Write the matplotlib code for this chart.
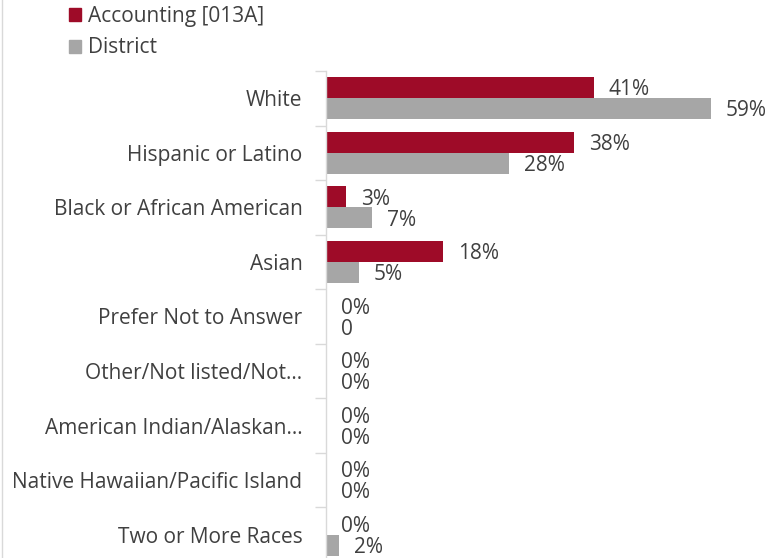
import numpy as np
import matplotlib.pyplot as plt
from matplotlib.lines import Line2D
from matplotlib.patches import Patch

categories = ["White", "Hispanic or Latino", "Black or African American", "Asian",
              "Prefer Not to Answer", "Other/Not listed/Not\u2026",
              "American Indian/Alaskan\u2026", "Native Hawaiian/Pacific Island",
              "Two or More Races"]
accounting = [0.41, 0.38, 0.03, 0.18, 0.0, 0.0, 0.0, 0.0, 0.0]
district = [0.59, 0.28, 0.07, 0.05, 0.0, 0.0, 0.0, 0.0, 0.02]
acc_labels = ["41%", "38%", "3%", "18%", "0%", "0%", "0%", "0%", "0%"]
dist_labels = ["59%", "28%", "7%", "5%", "0", "0%", "0%", "0%", "2%"]

RED = "#9E0B28"
GRAY = "#A6A6A6"
TEXT = "#404040"
FS = 15
plt.rcParams['font.family'] = ['Open Sans', 'DejaVu Sans']

W, H = 773, 558
fig = plt.figure(figsize=(W / 100, H / 100), dpi=100)
ax_left, ax_top, ax_bottom = 326, 71, 562
ax = fig.add_axes([ax_left / W, (H - ax_bottom) / H, 1 - ax_left / W, (ax_bottom - ax_top) / H])

y = np.arange(len(categories))
bh = 0.385
ax.barh(y - bh / 2, accounting, height=bh, color=RED, label="Accounting [013A]")
ax.barh(y + bh / 2, district, height=bh, color=GRAY, label="District")

off = 0.023
for i in range(len(categories)):
    ax.text(accounting[i] + off, y[i] - bh / 2 + 0.04, acc_labels[i], va='center', ha='left',
            fontsize=FS, color=TEXT, clip_on=False)
    ax.text(district[i] + off, y[i] + bh / 2 + 0.04, dist_labels[i], va='center', ha='left',
            fontsize=FS, color=TEXT, clip_on=False)

ax.set_xlim(0, 0.685)
ax.set_ylim(len(categories) - 0.5, -0.5)
ax.set_yticks(y)
ax.set_yticklabels(categories, fontsize=FS, color=TEXT)
ax.set_yticks(np.arange(len(categories) + 1) - 0.5, minor=True)
ax.tick_params(axis='y', which='major', length=0, pad=17)
ax.tick_params(axis='y', which='minor', length=8, color="#D9D9D9", width=1)
ax.set_xticks([])
for s in ['top', 'right', 'bottom']:
    ax.spines[s].set_visible(False)
ax.spines['left'].set_color("#D9D9D9")
ax.spines['left'].set_linewidth(1)

handles = [Patch(color=RED), Patch(color=GRAY)]
fig.legend(handles, ["Accounting [013A]", "District"], loc='upper left',
           bbox_to_anchor=(69 / W, 1 - 6 / H), frameon=False, fontsize=FS,
           borderaxespad=0, borderpad=0,
           handlelength=0.58, handleheight=0.58, handletextpad=0.34, labelspacing=0.5,
           labelcolor=TEXT)

fig.add_artist(Line2D([2 / W, 2 / W], [0, 1], color="#D9D9D9", lw=1))

fig.savefig("out.png", dpi=100)
